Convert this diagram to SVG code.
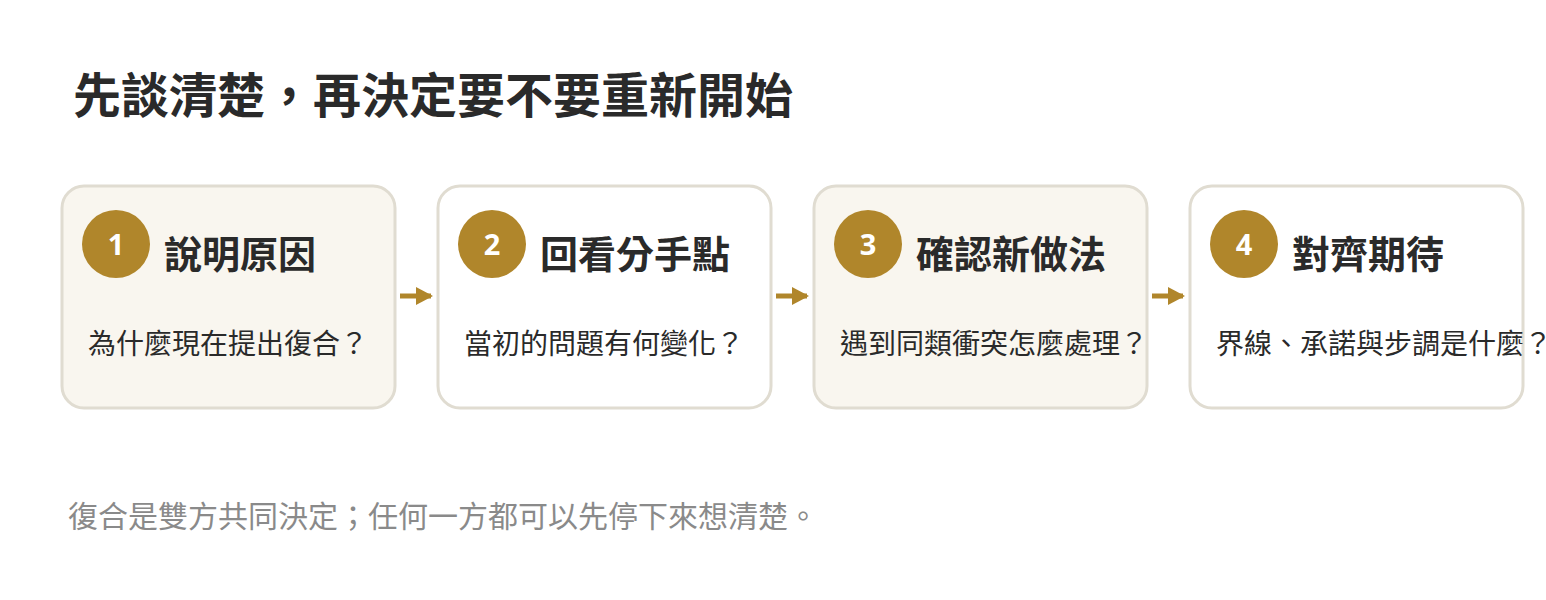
<svg xmlns="http://www.w3.org/2000/svg" width="1546" height="600" viewBox="0 0 1546 600">
<defs>
<style>
text{font-family:"Noto Sans CJK TC","Noto Sans CJK SC",sans-serif;}
.h{font-size:48px;font-weight:700;fill:#2a2a2a;}
.card{stroke:#e0dcd1;stroke-width:3;}
.alt{fill:#f9f6ef;}
.wh{fill:#ffffff;}
.badge{fill:#b0862b;}
.num{font-size:29px;font-weight:700;fill:#ffffff;text-anchor:middle;font-family:"Noto Sans","Noto Sans CJK TC",sans-serif;}
.t{font-size:38px;font-weight:700;fill:#2a2a2a;}
.b{font-size:28px;fill:#2a2a2a;}
.f{font-size:30px;fill:#8a8a8a;}
.conn{stroke:#b0862b;stroke-width:5;fill:none;}
</style>
<marker id="ah" viewBox="0 0 17 20" refX="15" refY="10" markerWidth="3.4" markerHeight="4" orient="auto" markerUnits="strokeWidth">
<path d="M0,1 L17,10 L0,19 z" fill="#b0862b"/>
</marker>
</defs>
<rect width="1546" height="600" fill="#ffffff"/>
<text class="h" x="73" y="113">先談清楚，再決定要不要重新開始</text>

<g id="node1">
<rect class="card alt" x="62" y="186" width="333" height="222" rx="22"/>
<circle class="badge" cx="116" cy="244" r="34"/>
<text class="num" x="116" y="255">1</text>
<text class="t" x="164" y="268">說明原因</text>
<text class="b" x="88" y="354">為什麼現在提出復合？</text>
</g>
<g id="node2">
<rect class="card wh" x="438" y="186" width="333" height="222" rx="22"/>
<circle class="badge" cx="492" cy="244" r="34"/>
<text class="num" x="492" y="255">2</text>
<text class="t" x="540" y="268">回看分手點</text>
<text class="b" x="464" y="354">當初的問題有何變化？</text>
</g>
<g id="node3">
<rect class="card alt" x="814" y="186" width="333" height="222" rx="22"/>
<circle class="badge" cx="868" cy="244" r="34"/>
<text class="num" x="868" y="255">3</text>
<text class="t" x="916" y="268">確認新做法</text>
<text class="b" x="840" y="354">遇到同類衝突怎麼處理？</text>
</g>
<g id="node4">
<rect class="card wh" x="1190" y="186" width="333" height="222" rx="22"/>
<circle class="badge" cx="1244" cy="244" r="34"/>
<text class="num" x="1244" y="255">4</text>
<text class="t" x="1292" y="268">對齊期待</text>
<text class="b" x="1216" y="354">界線、承諾與步調是什麼？</text>
</g>

<g id="connectors">
<line class="conn" x1="400" y1="296" x2="431" y2="296" marker-end="url(#ah)"/>
<line class="conn" x1="776" y1="296" x2="807" y2="296" marker-end="url(#ah)"/>
<line class="conn" x1="1152" y1="296" x2="1183" y2="296" marker-end="url(#ah)"/>
</g>

<text class="f" x="68" y="527">復合是雙方共同決定；任何一方都可以先停下來想清楚。</text>
</svg>
